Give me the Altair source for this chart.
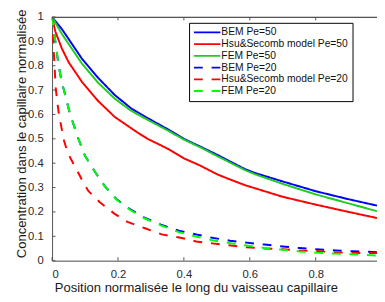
import altair as alt
import pandas as pd

# ---- data ----
series_names = [
    "BEM Pe=50",
    "Hsu&Secomb model Pe=50",
    "FEM Pe=50",
    "BEM Pe=20",
    "Hsu&Secomb model Pe=20",
    "FEM Pe=20",
]
series_colors = ["#0000ff", "#ff0000", "#1fcc1f", "#0000ff", "#ff0000", "#00ff00"]

x_bem50 = [0, 0.03, 0.06, 0.09, 0.14, 0.19, 0.24, 0.29, 0.35, 0.4, 0.45, 0.5, 0.585, 0.615, 0.7, 0.8, 0.9, 0.986]
y_bem50 = [1.0, 0.95, 0.89, 0.83, 0.75, 0.68, 0.625, 0.585, 0.54, 0.50, 0.468, 0.435, 0.376, 0.36, 0.325, 0.285, 0.252, 0.226]

x_fem50 = [0, 0.03, 0.06, 0.09, 0.14, 0.19, 0.24, 0.29, 0.35, 0.4, 0.45, 0.5, 0.585, 0.615, 0.7, 0.8, 0.9, 0.986]
y_fem50 = [1.0, 0.93, 0.87, 0.81, 0.73, 0.665, 0.615, 0.578, 0.535, 0.497, 0.465, 0.43, 0.372, 0.355, 0.315, 0.272, 0.235, 0.203]

x_hsu50 = [0, 0.01, 0.03, 0.05, 0.09, 0.14, 0.19, 0.258, 0.29, 0.35, 0.4, 0.45, 0.5, 0.535, 0.585, 0.7, 0.8, 0.9, 0.986]
y_hsu50 = [1.0, 0.94, 0.87, 0.815, 0.735, 0.655, 0.59, 0.527, 0.50, 0.46, 0.42, 0.39, 0.355, 0.336, 0.31, 0.262, 0.23, 0.20, 0.175]

x_bem20 = [0, 0.01, 0.02, 0.03, 0.04, 0.05, 0.06, 0.08, 0.1, 0.13, 0.16, 0.195, 0.235, 0.28, 0.33, 0.385, 0.44, 0.49, 0.54, 0.59, 0.645, 0.7, 0.75, 0.8, 0.86, 0.91, 0.986]
y_bem20 = [1.0, 0.90, 0.80, 0.73, 0.68, 0.625, 0.58, 0.50, 0.43, 0.365, 0.306, 0.253, 0.213, 0.177, 0.148, 0.123, 0.107, 0.093, 0.082, 0.074, 0.066, 0.058, 0.052, 0.047, 0.042, 0.039, 0.035]

x_fem20 = [0, 0.01, 0.02, 0.03, 0.04, 0.05, 0.06, 0.08, 0.1, 0.13, 0.16, 0.195, 0.235, 0.28, 0.33, 0.385, 0.44, 0.49, 0.54, 0.59, 0.645, 0.7, 0.75, 0.8, 0.86, 0.91, 0.986]
y_fem20 = [1.0, 0.90, 0.80, 0.73, 0.68, 0.625, 0.58, 0.50, 0.43, 0.365, 0.305, 0.251, 0.21, 0.174, 0.145, 0.117, 0.098, 0.083, 0.072, 0.062, 0.052, 0.045, 0.038, 0.033, 0.029, 0.026, 0.021]

x_hsu20 = [0, 0.003, 0.006, 0.011, 0.016, 0.021, 0.028, 0.036, 0.046, 0.056, 0.068, 0.08, 0.095, 0.11, 0.145, 0.189, 0.229, 0.282, 0.333, 0.397, 0.437, 0.486, 0.536, 0.59, 0.645, 0.7, 0.75, 0.8, 0.86, 0.91, 0.986]
y_hsu20 = [1.0, 0.90, 0.84, 0.71, 0.65, 0.60, 0.55, 0.494, 0.45, 0.42, 0.39, 0.36, 0.32, 0.286, 0.24, 0.193, 0.159, 0.133, 0.108, 0.092, 0.079, 0.071, 0.063, 0.055, 0.05, 0.047, 0.042, 0.040, 0.034, 0.032, 0.031]

x_ticks = [0, 0.2, 0.4, 0.6, 0.8]
y_ticks = [0, 0.1, 0.2, 0.3, 0.4, 0.5, 0.6, 0.7, 0.8, 0.9, 1.0]

x_title = "Position normalisée le long du vaisseau capillaire"
y_title = "Concentration dans le capillaire normalisée"

# ---- build table ----
all_x = [x_bem50, x_hsu50, x_fem50, x_bem20, x_hsu20, x_fem20]
all_y = [y_bem50, y_hsu50, y_fem50, y_bem20, y_hsu20, y_fem20]
rows = []
for k, (name, xs, ys) in enumerate(zip(series_names, all_x, all_y)):
    for i, (xv, yv) in enumerate(zip(xs, ys)):
        rows.append({"series": name, "x": xv, "y": yv, "order": k * 1000 + i})
df = pd.DataFrame(rows)

W, H = 332, 249
FONT = "Liberation Sans"
xscale = alt.Scale(domain=[0, 0.986], nice=False, zero=False)
yscale = alt.Scale(domain=[0, 1], nice=False, zero=False)

xaxis = alt.Axis(values=x_ticks, format="~g", ticks=False, grid=False,
                 labelPadding=8, labelFontSize=11.5, labelColor="#2a2a2a",
                 domainColor="#555555", labelFont=FONT,
                 title=x_title, titleFont=FONT, titleFontSize=13.3,
                 titleFontWeight="normal", titleColor="#1a1a1a",
                 titleX=147, titleY=31, titleBaseline="alphabetic")
yaxis = alt.Axis(values=y_ticks, format="~g", ticks=False, grid=False,
                 labelPadding=9, labelFontSize=11.5, labelColor="#2a2a2a",
                 domainColor="#555555", labelFont=FONT,
                 title=y_title, titleFont=FONT, titleFontSize=13.3,
                 titleFontWeight="normal", titleColor="#1a1a1a",
                 titleX=-27, titleY=119, titleAngle=270,
                 titleBaseline="alphabetic")

dash_range = [[1, 0], [1, 0], [1, 0], [9, 9], [9, 9], [9, 9]]

lines = alt.Chart(df).mark_line(strokeWidth=2, clip=True).encode(
    x=alt.X("x:Q", scale=xscale, axis=xaxis),
    y=alt.Y("y:Q", scale=yscale, axis=yaxis),
    color=alt.Color("series:N", sort=series_names,
                    scale=alt.Scale(domain=series_names, range=series_colors),
                    legend=alt.Legend(title=None, orient="none", legendX=140, legendY=6,
                                      symbolType="stroke", symbolSize=729,
                                      symbolStrokeWidth=2, labelFont=FONT,
                                      labelFontSize=10.5, labelColor="#111111",
                                      labelOffset=0, padding=4, rowPadding=0,
                                      clipHeight=11.5, labelLimit=400,
                                      strokeColor="#000000", fillColor="white",
                                      labelExpr="datum.label + '\u00a0\u00a0\u00a0\u00a0\u00a0\u00a0\u00a0\u00a0\u00a0'")),
    strokeDash=alt.StrokeDash("series:N", sort=series_names,
                              scale=alt.Scale(domain=series_names, range=dash_range)),
    order=alt.Order("order:Q"),
)

xt = pd.DataFrame({"x": x_ticks})
yt = pd.DataFrame({"y": y_ticks})

bottom_ticks = alt.Chart(xt).mark_rule(color="#555555", strokeWidth=1).encode(
    x=alt.X("x:Q", scale=xscale, axis=xaxis),
    y=alt.value(H), y2=alt.value(H - 3.5),
)
top_ticks = alt.Chart(xt).mark_rule(color="#555555", strokeWidth=1).encode(
    x=alt.X("x:Q", scale=xscale, axis=xaxis),
    y=alt.value(0), y2=alt.value(3.5),
)
left_ticks = alt.Chart(yt).mark_rule(color="#555555", strokeWidth=1).encode(
    y=alt.Y("y:Q", scale=yscale, axis=yaxis),
    x=alt.value(0), x2=alt.value(3.5),
)
top_border = alt.Chart(xt).mark_rule(color="#555555", strokeWidth=1).encode(
    x=alt.value(0), x2=alt.value(W), y=alt.value(0.5),
)

chart = alt.layer(lines, bottom_ticks, top_ticks, left_ticks, top_border).properties(
    width=W, height=H,
    autosize=alt.AutoSizeParams(type="none"),
    padding={"left": 45, "top": 6, "right": 0, "bottom": 36},
).configure_view(stroke=None).configure(background="white")

chart.save("out.html", embed_options={"renderer": "svg", "actions": False})
